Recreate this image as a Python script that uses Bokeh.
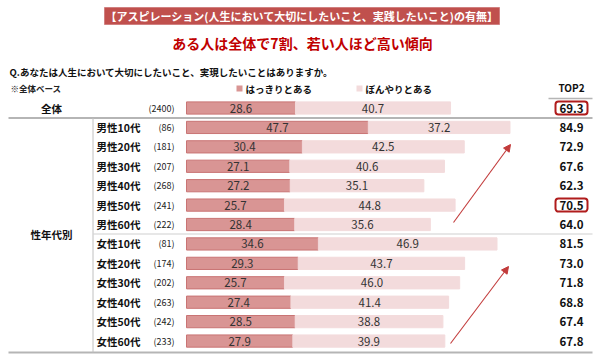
from bokeh.plotting import figure
from bokeh.models import Range1d, ColumnDataSource, Arrow, NormalHead
from bokeh.core.properties import value
from bokeh.embed import file_html
from bokeh.resources import INLINE

# ---- data ----
categories = ["全体", "男性10代", "男性20代", "男性30代", "男性40代", "男性50代", "男性60代",
              "女性10代", "女性20代", "女性30代", "女性40代", "女性50代", "女性60代"]
counts = [2400, 86, 181, 207, 268, 241, 222, 81, 174, 202, 263, 242, 233]
clear = [28.6, 47.7, 30.4, 27.1, 27.2, 25.7, 28.4, 34.6, 29.3, 25.7, 27.4, 28.5, 27.9]
vague = [40.7, 37.2, 42.5, 40.6, 35.1, 44.8, 35.6, 46.9, 43.7, 46.0, 41.4, 38.8, 39.9]
top2 = [69.3, 84.9, 72.9, 67.6, 62.3, 70.5, 64.0, 81.5, 73.0, 71.8, 68.8, 67.4, 67.8]
highlight = ["全体", "男性50代"]
series_names = ["はっきりとある", "ぼんやりとある"]
group_label = "性年代別"
title_text = "【アスピレーション(人生において大切にしたいこと、実践したいこと)の有無】"
subtitle_text = "ある人は全体で7割、若い人ほど高い傾向"
question_text = "Q.あなたは人生において大切にしたいこと、実現したいことはありますか。"
base_note = "※全体ベース"

FONT = value("Noto Sans CJK JP")
DARK = "#d99594"
DARK_LINE = "#c97474"
LIGHT = "#f3dbdc"

# layout helpers (pixel -> data)
X0, SX = 186.0, 3.81
Y0, SY = 107.5, 19.42
def X(px):
    return (px - X0) / SX
def Y(py):
    return (py - Y0) / SY

W, H = 600, 357
p = figure(width=W, height=H, output_backend="svg", toolbar_location=None,
           x_range=Range1d(X(0), X(W)), y_range=Range1d(Y(H), Y(0)),
           x_axis_type=None, y_axis_type=None, min_border=0,
           outline_line_color=None, background_fill_color="white",
           border_fill_color="white")
p.grid.visible = False

rows = list(range(len(categories)))
ends = [c + v for c, v in zip(clear, vague)]
src = ColumnDataSource(dict(
    y=rows, cat=categories, clear=clear, vague=vague, ends=ends,
    cmid=[c / 2 for c in clear], vmid=[c + v / 2 for c, v in zip(clear, vague)],
    ctxt=[f"{c:.1f}" for c in clear], vtxt=[f"{v:.1f}" for v in vague],
    ntxt=[f"({n})" for n in counts], ttxt=[f"{t:.1f}" for t in top2],
))

# bars
p.hbar(y="y", left=0, right="clear", height=0.63, source=src,
       fill_color=DARK, line_color=DARK_LINE, line_width=1)
p.hbar(y="y", left="clear", right="ends", height=0.63, source=src,
       fill_color=LIGHT, line_color=LIGHT, line_width=1)

# bar values
p.text(x="cmid", y="y", text="ctxt", source=src, text_font=FONT, text_font_size="11.5px",
       text_align="center", text_baseline="middle", text_color="#333333")
p.text(x="vmid", y="y", text="vtxt", source=src, text_font=FONT, text_font_size="11.5px",
       text_align="center", text_baseline="middle", text_color="#333333")

# category labels
cat_x = [X(51) if i == 0 else X(96) for i in rows]
cat_align = ["center" if i == 0 else "left" for i in rows]
src.data["catx"] = cat_x
src.data["cata"] = cat_align
p.text(x="catx", y="y", text="cat", source=src, text_font=FONT, text_font_size="10.5px",
       text_font_style="bold", text_align="cata", text_baseline="middle", text_color="#111111")
# counts
p.text(x=X(174), y="y", text="ntxt", source=src, text_font=FONT, text_font_size="9px",
       text_align="right", text_baseline="middle", text_color="#222222")
# TOP2 values
p.text(x=X(571), y="y", text="ttxt", source=src, text_font=FONT, text_font_size="11.5px",
       text_font_style="bold", text_align="center", text_baseline="middle", text_color="#111111")

# highlight boxes
hy = [categories.index(h) for h in highlight]
p.rect(x=[X(571)] * len(hy), y=hy, width=32 / SX, height=13 / SY,
       fill_color=None, line_color="#b01c1c", line_width=2, border_radius=3)

# group label
p.text(x=[X(51)], y=[Y(233.5)], text=[group_label], text_font=FONT, text_font_size="10.5px",
       text_font_style="bold", text_align="center", text_baseline="middle", text_color="#111111")

# rules
gray = "#b5b5b5"
p.line([X(8), X(592)], [Y(117.5), Y(117.5)], line_color=gray, line_width=2)
p.line([X(8), X(592)], [Y(352), Y(352)], line_color=gray, line_width=2)
p.line([X(93), X(592)], [Y(233.5), Y(233.5)], line_color="#cfcfcf", line_width=1.2)
p.line([X(92.5), X(92.5)], [Y(117.5), Y(352)], line_color="#c0c0c0", line_width=1)
p.line([X(548), X(592)], [Y(98), Y(98)], line_color=gray, line_width=1.5)

# arrows
for (x1, y1, x2, y2) in [(453, 222, 510, 144), (450, 343, 508, 266)]:
    p.add_layout(Arrow(x_start=X(x1), y_start=Y(y1), x_end=X(x2), y_end=Y(y2),
                       line_color="#c23b3b", line_width=1.1,
                       end=NormalHead(size=7, fill_color="#c23b3b", line_color="#c23b3b")))

# title box
p.quad(left=[X(104)], right=[X(499)], top=[Y(7)], bottom=[Y(24)],
       fill_color="#c0504d", line_color="#d08080", line_width=1)
p.text(x=[X(301.5)], y=[Y(15.5)], text=[title_text], text_font=FONT, text_font_size="11px",
       text_font_style="bold", text_align="center", text_baseline="middle", text_color="white")
p.text(x=[X(302)], y=[Y(42)], text=[subtitle_text], text_font=FONT, text_font_size="14px",
       text_font_style="bold", text_align="center", text_baseline="middle", text_color="#c00000")
p.text(x=[X(9)], y=[Y(71)], text=[question_text], text_font=FONT, text_font_size="9.5px",
       text_font_style="bold", text_align="left", text_baseline="middle", text_color="#111111")
p.text(x=[X(10)], y=[Y(87)], text=[base_note], text_font=FONT, text_font_size="8.5px",
       text_font_style="bold", text_align="left", text_baseline="middle", text_color="#222222")

# legend
p.rect(x=[X(239), X(359)], y=[Y(88), Y(88)], width=6 / SX, height=6 / SY,
       fill_color=[DARK, LIGHT], line_color=None)
p.text(x=[X(245), X(365)], y=[Y(88), Y(88)], text=series_names, text_font=FONT,
       text_font_size="9.5px", text_font_style="bold", text_align="left",
       text_baseline="middle", text_color="#111111")
p.text(x=[X(571)], y=[Y(87)], text=["TOP2"], text_font=FONT, text_font_size="10px",
       text_font_style="bold", text_align="center", text_baseline="middle", text_color="#111111")

open("out.html", "w").write(file_html(p, INLINE))
